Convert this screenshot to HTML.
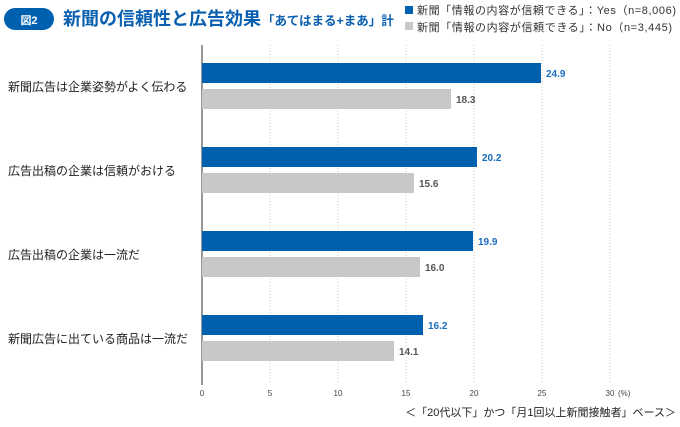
<!DOCTYPE html>
<html><head><meta charset="utf-8"><style>
body{margin:0;background:#fff;}
svg text{font-family:"Liberation Sans","Noto Sans CJK JP",sans-serif;}
</style></head><body>
<svg width="680" height="422" xmlns="http://www.w3.org/2000/svg">
<rect x="4" y="8" width="50" height="22" rx="11" fill="#0060b0"/>
<text x="29" y="24" font-size="11" font-weight="bold" fill="#fff" text-anchor="middle">図2</text>
<text x="63" y="25" font-size="18" font-weight="bold" fill="#0a5fb0">新聞の信頼性と広告効果</text>
<text x="262" y="25" font-size="12.5" font-weight="bold" fill="#0a5fb0">「あてはまる+まあ」計</text>
<rect x="405" y="6" width="8" height="8" fill="#0060b0"/>
<text x="417" y="14" font-size="11" fill="#333" textLength="259">新聞「情報の内容が信頼できる」：Yes（n=8,006)</text>
<rect x="405" y="22" width="8" height="8" fill="#c8c8c8"/>
<text x="417" y="31" font-size="11" fill="#333" textLength="255">新聞「情報の内容が信頼できる」：No（n=3,445)</text>
<g stroke="#ccc" stroke-dasharray="1,2">
<line x1="270" y1="45" x2="270" y2="382"/><line x1="338" y1="45" x2="338" y2="382"/>
<line x1="406" y1="45" x2="406" y2="382"/><line x1="474" y1="45" x2="474" y2="382"/>
<line x1="542" y1="45" x2="542" y2="382"/><line x1="610" y1="45" x2="610" y2="382"/>
</g>
<line x1="202" y1="45" x2="202" y2="385" stroke="#333" stroke-width="1"/>
<g fill="#0060b0">
<rect x="202" y="63" width="339" height="20"/>
<rect x="202" y="147" width="275" height="20"/>
<rect x="202" y="231" width="271" height="20"/>
<rect x="202" y="315" width="221" height="20"/>
</g>
<g fill="#c8c8c8">
<rect x="202" y="89" width="249" height="20"/>
<rect x="202" y="173" width="212" height="20"/>
<rect x="202" y="257" width="218" height="20"/>
<rect x="202" y="341" width="192" height="20"/>
</g>
<g font-size="10" font-weight="bold" fill="#1a6cc0">
<text x="546" y="77">24.9</text><text x="482" y="161">20.2</text>
<text x="478" y="245">19.9</text><text x="428" y="329">16.2</text>
</g>
<g font-size="10" font-weight="bold" fill="#555">
<text x="456" y="103">18.3</text><text x="419" y="187">15.6</text>
<text x="425" y="271">16.0</text><text x="399" y="355">14.1</text>
</g>
<g font-size="12" fill="#222">
<text x="8" y="91">新聞広告は企業姿勢がよく伝わる</text>
<text x="8" y="175">広告出稿の企業は信頼がおける</text>
<text x="8" y="259">広告出稿の企業は一流だ</text>
<text x="8" y="343">新聞広告に出ている商品は一流だ</text>
</g>
<g font-size="8" fill="#444" text-anchor="middle">
<text x="202" y="396">0</text><text x="270" y="396">5</text><text x="338" y="396">10</text>
<text x="406" y="396">15</text><text x="474" y="396">20</text><text x="542" y="396">25</text>
<text x="610" y="396">30</text>
</g>
<text x="618" y="396" font-size="8" fill="#444">(%)</text>
<text x="676" y="416" font-size="11" fill="#222" text-anchor="end">＜「20代以下」かつ「月1回以上新聞接触者」ベース＞</text>
</svg>
</body></html>
